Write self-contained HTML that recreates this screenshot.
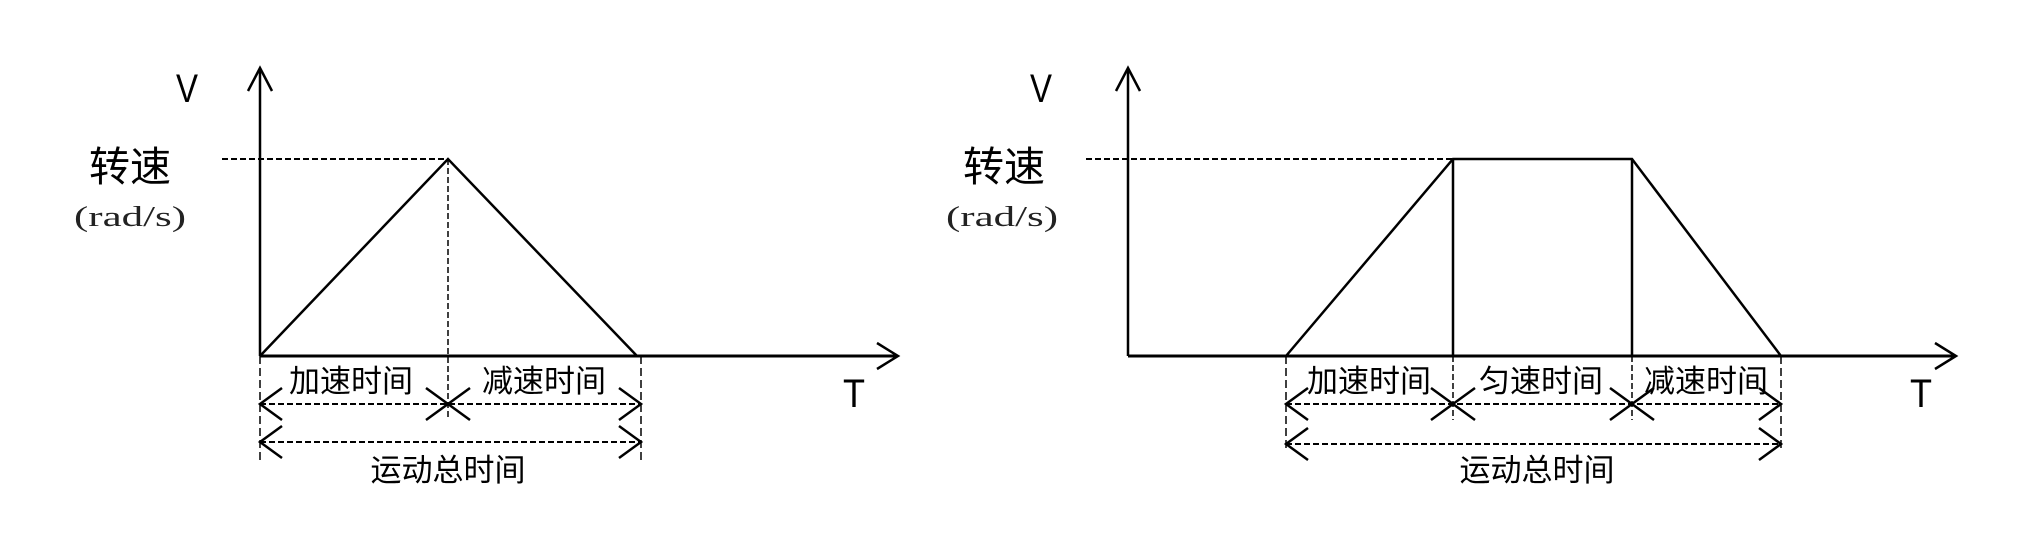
<!DOCTYPE html>
<html><head><meta charset="utf-8"><style>html,body{margin:0;padding:0;background:#fff}svg{display:block}</style></head>
<body>
<svg width="2036" height="549" viewBox="0 0 2036 549" xmlns="http://www.w3.org/2000/svg" font-family="Liberation Sans, Noto Sans CJK SC, sans-serif">
<g stroke="#000" fill="none" stroke-width="2.5">
<!-- LEFT -->
<line x1="260" y1="356" x2="260" y2="68"/>
<polyline points="248,91 260,68 272,91"/>
<line x1="260" y1="356" x2="898" y2="356" stroke-width="3"/>
<polyline points="877,343 898,356 877,369"/>
<polyline points="260,356 448,159 637,356"/>
<line x1="222" y1="159" x2="448" y2="159" stroke-dasharray="6,3" stroke-width="2"/>
<line x1="448" y1="159" x2="448" y2="420" stroke-dasharray="6,3" stroke-width="1.5"/>
<line x1="260" y1="356" x2="260" y2="460" stroke-dasharray="8,4" stroke-width="1.5"/>
<line x1="641" y1="356" x2="641" y2="460" stroke-dasharray="8,4" stroke-width="1.5"/>
<line x1="260" y1="404" x2="641" y2="404" stroke-dasharray="6,3" stroke-width="2"/>
<line x1="260" y1="442" x2="641" y2="442" stroke-dasharray="6,3" stroke-width="2"/>
<polyline points="282,388 260,404 282,420"/><polyline points="426,388 448,404 426,420"/>
<polyline points="470,388 448,404 470,420"/><polyline points="619,388 641,404 619,420"/>
<polyline points="282,426 260,442 282,458"/><polyline points="619,426 641,442 619,458"/>
<!-- RIGHT -->
<line x1="1128" y1="356" x2="1128" y2="68"/>
<polyline points="1116,91 1128,68 1140,91"/>
<line x1="1128" y1="356" x2="1956" y2="356" stroke-width="3"/>
<polyline points="1935,343 1956,356 1935,369"/>
<polyline points="1286,356 1453,159 1632,159 1781,356"/>
<line x1="1453" y1="159" x2="1453" y2="356"/>
<line x1="1632" y1="159" x2="1632" y2="356"/>
<line x1="1086" y1="159" x2="1453" y2="159" stroke-dasharray="6,3" stroke-width="2"/>
<line x1="1453" y1="356" x2="1453" y2="420" stroke-dasharray="6,3" stroke-width="1.5"/>
<line x1="1632" y1="356" x2="1632" y2="420" stroke-dasharray="6,3" stroke-width="1.5"/>
<line x1="1286" y1="356" x2="1286" y2="452" stroke-dasharray="8,4" stroke-width="1.5"/>
<line x1="1781" y1="356" x2="1781" y2="452" stroke-dasharray="8,4" stroke-width="1.5"/>
<line x1="1286" y1="404" x2="1781" y2="404" stroke-dasharray="6,3" stroke-width="2"/>
<line x1="1286" y1="444" x2="1781" y2="444" stroke-dasharray="6,3" stroke-width="2"/>
<polyline points="1308,388 1286,404 1308,420"/><polyline points="1431,388 1453,404 1431,420"/>
<polyline points="1475,388 1453,404 1475,420"/><polyline points="1610,388 1632,404 1610,420"/>
<polyline points="1654,388 1632,404 1654,420"/><polyline points="1759,388 1781,404 1759,420"/>
<polyline points="1308,428 1286,444 1308,460"/><polyline points="1759,428 1781,444 1759,460"/>
</g>
<g fill="#000" text-anchor="middle">
<text x="187" y="102" font-size="40" textLength="22" lengthAdjust="spacingAndGlyphs">V</text>
<text x="854" y="407" font-size="40" textLength="22" lengthAdjust="spacingAndGlyphs">T</text>
<text x="130" y="181" font-size="41">转速</text>
<text x="130" y="226" font-size="28" font-family="Liberation Serif, serif" textLength="112" lengthAdjust="spacingAndGlyphs" fill="#222">(rad/s)</text>
<text x="351" y="392" font-size="31">加速时间</text>
<text x="544" y="392" font-size="31">减速时间</text>
<text x="448" y="481" font-size="31">运动总时间</text>
<text x="1041" y="102" font-size="40" textLength="22" lengthAdjust="spacingAndGlyphs">V</text>
<text x="1921" y="407" font-size="40" textLength="22" lengthAdjust="spacingAndGlyphs">T</text>
<text x="1004" y="181" font-size="41">转速</text>
<text x="1002" y="226" font-size="28" font-family="Liberation Serif, serif" textLength="112" lengthAdjust="spacingAndGlyphs" fill="#222">(rad/s)</text>
<text x="1369" y="392" font-size="31">加速时间</text>
<text x="1541" y="392" font-size="31">匀速时间</text>
<text x="1706" y="392" font-size="31">减速时间</text>
<text x="1537" y="481" font-size="31">运动总时间</text>
</g>
</svg>
</body></html>
